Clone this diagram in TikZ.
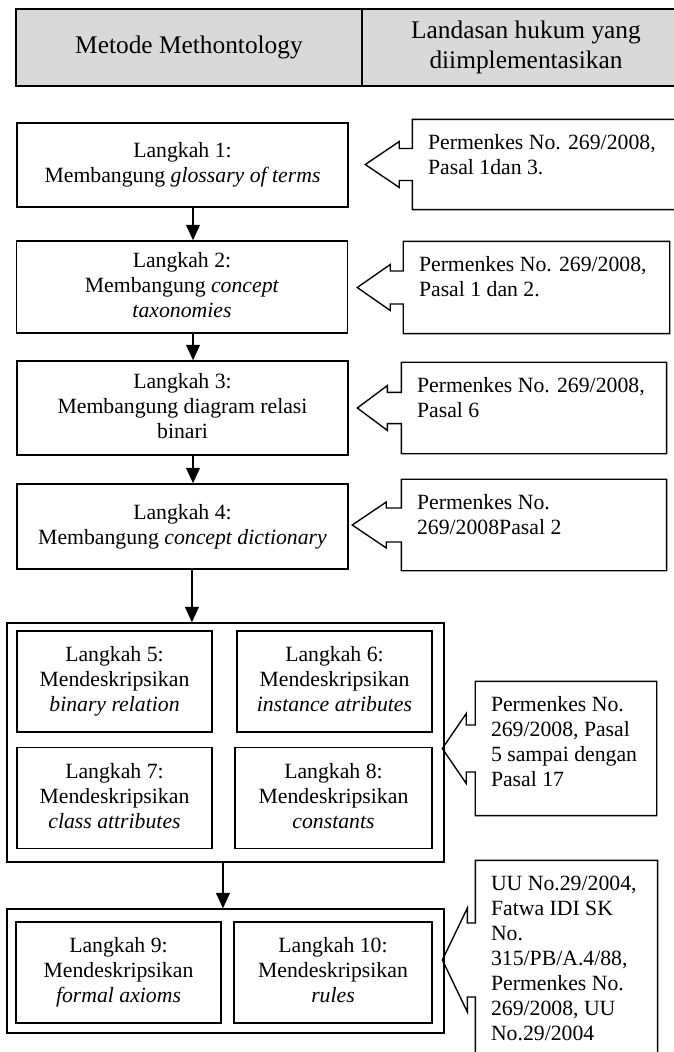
\documentclass[tikz,border=0pt]{standalone}
\usepackage{fontspec}
\setmainfont{Liberation Serif}
\usetikzlibrary{positioning, arrows.meta}
\definecolor{hdrgray}{RGB}{217,217,217}

% outline of a callout: #1 body, #2 stem, #3 head, #4 head half height, #5 stem half height
\newcommand{\calloutshape}[5]{%
    \draw[dasarline] (#1.north east) -- (#1.north west)
        -- ([yshift=#5]#1.west) -- ([xshift=-#2,yshift=#5]#1.west)
        -- ([xshift=-#2,yshift=#4]#1.west) -- ([xshift=-#2-#3]#1.west)
        -- ([xshift=-#2,yshift=-#4]#1.west) -- ([xshift=-#2,yshift=-#5]#1.west)
        -- ([yshift=-#5]#1.west) -- (#1.south west) -- (#1.south east) -- cycle;}

\begin{document}
\begin{tikzpicture}[x=0.552pt, y=-0.552pt, line width=0.75pt]
        % Define styles for shapes
        \tikzstyle{header} = [draw, fill=hdrgray, line width=1.1pt, minimum height=42.5pt, align=center, font=\fontsize{14}{16.6}\selectfont]
        \tikzstyle{langkah} = [draw, minimum width=182.7pt, font=\fontsize{12}{13.8}\selectfont]
        \tikzstyle{kecil} = [draw, minimum height=55.8pt, font=\fontsize{12}{13.8}\selectfont]
        \tikzstyle{grup} = [draw, minimum width=241.2pt]
        \tikzstyle{dasar} = [inner sep=0pt]
        \tikzstyle{teks} = [anchor=north west, inner xsep=8.3pt, inner ysep=6.5pt, font=\fontsize{12}{13.8}\selectfont]
        \tikzstyle{dasarline} = [draw, line width=0.75pt]
        \tikzstyle{panah} = [-{Triangle[length=8.5pt, width=7.5pt]}, line width=1.1pt]

        \path[use as bounding box, fill=white] (0,0) rectangle (674,1052);

        % Header
        \node[header, minimum width=191pt] (hdrMetode) at (189,47.5) {Metode Methontology};
        \node[header, minimum width=181pt] (hdrLandasan) at (526,47.5) {Landasan hukum yang\\diimplementasikan};

        % Langkah 1 - 4
        \node[langkah, minimum height=46.4pt] (langkah1) at (182.5,165) {
            \begin{tabular}{@{}c@{}}
                Langkah 1: \\
                Membangung \textit{glossary of terms} \\
            \end{tabular}
        };
        \node[langkah, minimum height=50.8pt] (langkah2) at (182,287) {
            \begin{tabular}{@{}c@{}}
                Langkah 2: \\
                Membangung \textit{concept} \\
                \textit{taxonomies} \\
            \end{tabular}
        };
        \node[langkah, minimum height=51.9pt] (langkah3) at (182.5,408) {
            \begin{tabular}{@{}c@{}}
                Langkah 3: \\
                Membangung diagram relasi \\
                binari \\
            \end{tabular}
        };
        \node[langkah, minimum height=46.9pt] (langkah4) at (182.5,526.5) {
            \begin{tabular}{@{}c@{}}
                Langkah 4: \\
                Membangung \textit{concept dictionary} \\
            \end{tabular}
        };

        % Langkah 5 - 8 in one frame
        \node[grup, minimum height=131.9pt] (grup1) at (225.5,742.5) {};
        \node[kecil, minimum width=107.6pt] (langkah5) at (114.5,681.5) {
            \begin{tabular}{@{}c@{}}
                Langkah 5: \\
                Mendeskripsikan \\
                \textit{binary relation} \\
            \end{tabular}
        };
        \node[kecil, minimum width=107.6pt] (langkah6) at (334.5,681.5) {
            \begin{tabular}{@{}c@{}}
                Langkah 6: \\
                Mendeskripsikan \\
                \textit{instance atributes} \\
            \end{tabular}
        };
        \node[kecil, minimum width=107.6pt] (langkah7) at (114.5,798) {
            \begin{tabular}{@{}c@{}}
                Langkah 7: \\
                Mendeskripsikan \\
                \textit{class attributes} \\
            \end{tabular}
        };
        \node[kecil, minimum width=108.7pt] (langkah8) at (333.5,798) {
            \begin{tabular}{@{}c@{}}
                Langkah 8: \\
                Mendeskripsikan \\
                \textit{constants} \\
            \end{tabular}
        };

        % Langkah 9 - 10 in one frame
        \node[grup, minimum height=68.4pt] (grup2) at (225.5,971) {};
        \node[kecil, minimum width=113.2pt] (langkah9) at (118.5,972.5) {
            \begin{tabular}{@{}c@{}}
                Langkah 9: \\
                Mendeskripsikan \\
                \textit{formal axioms} \\
            \end{tabular}
        };
        \node[kecil, minimum width=109.3pt] (langkah10) at (333,972.5) {
            \begin{tabular}{@{}c@{}}
                Langkah 10: \\
                Mendeskripsikan \\
                \textit{rules} \\
            \end{tabular}
        };

        % Landasan hukum callouts
        \node[dasar, minimum width=158.4pt, minimum height=49.1pt] (dasar1) at (556.5,164.5) {};
        \node[teks] (teks1) at (dasar1.north west) {
            \begin{tabular}{@{}l@{}}
                Permenkes No. 269/2008, \\
                Pasal 1dan 3. \\
            \end{tabular}
        };
        \node[dasar, minimum width=146.3pt, minimum height=50.2pt] (dasar2) at (536.5,287.5) {};
        \node[teks] (teks2) at (dasar2.north west) {
            \begin{tabular}{@{}l@{}}
                Permenkes No. 269/2008, \\
                Pasal 1 dan 2. \\
            \end{tabular}
        };
        \node[dasar, minimum width=145.7pt, minimum height=49.7pt] (dasar3) at (534,408) {};
        \node[teks] (teks3) at (dasar3.north west) {
            \begin{tabular}{@{}l@{}}
                Permenkes No. 269/2008, \\
                Pasal 6 \\
            \end{tabular}
        };
        \node[dasar, minimum width=145.7pt, minimum height=49.7pt] (dasar4) at (534,525) {};
        \node[teks] (teks4) at (dasar4.north west) {
            \begin{tabular}{@{}l@{}}
                Permenkes No. \\
                269/2008Pasal 2 \\
            \end{tabular}
        };
        \node[dasar, minimum width=99.4pt, minimum height=73.4pt] (dasar5) at (566,748.5) {};
        \node[teks] (teks5) at (dasar5.north west) {
            \begin{tabular}{@{}l@{}}
                Permenkes No. \\
                269/2008, Pasal \\
                5 sampai dengan \\
                Pasal 17 \\
            \end{tabular}
        };
        \node[dasar, minimum width=99.9pt, minimum height=109.3pt] (dasar6) at (566.5,960) {};
        \node[teks] (teks6) at (dasar6.north west) {
            \begin{tabular}{@{}l@{}}
                UU No.29/2004, \\
                Fatwa IDI SK \\
                No. \\
                315/PB/A.4/88, \\
                Permenkes No. \\
                269/2008, UU \\
                No.29/2004 \\
            \end{tabular}
        };
        \calloutshape{dasar1}{7.2pt}{18.8pt}{12.7pt}{8.8pt}
        \calloutshape{dasar2}{7.2pt}{18.2pt}{12.7pt}{9.1pt}
        \calloutshape{dasar3}{7.7pt}{16.6pt}{12.4pt}{8.6pt}
        \calloutshape{dasar4}{8.3pt}{18.8pt}{12.7pt}{9.4pt}
        \calloutshape{dasar5}{5pt}{13.2pt}{19.3pt}{13pt}
        \calloutshape{dasar6}{4.4pt}{13.8pt}{28.7pt}{20.4pt}

        % Draw arrows
        \draw[panah] ([xshift=5.8pt]langkah1.south) -- ([xshift=5.8pt]langkah1.south |- langkah2.north);
        \draw[panah] ([xshift=6.1pt]langkah2.south) -- ([xshift=6.1pt]langkah2.south |- langkah3.north);
        \draw[panah] ([xshift=5.8pt]langkah3.south) -- ([xshift=5.8pt]langkah3.south |- langkah4.north);
        \draw[panah] ([xshift=5.2pt]langkah4.south) -- ([xshift=5.2pt]langkah4.south |- grup1.north);
        \draw[panah] ([xshift=-1.4pt]grup1.south) -- ([xshift=-1.4pt]grup2.north);
    \end{tikzpicture}
\end{document}
